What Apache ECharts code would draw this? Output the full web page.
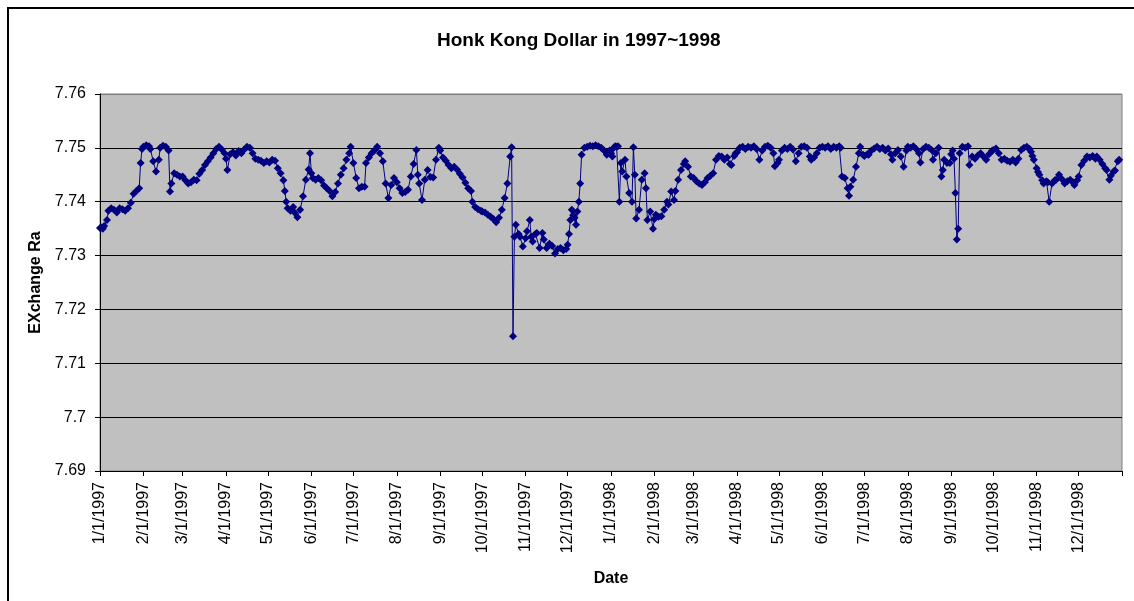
<!DOCTYPE html>
<html>
<head>
<meta charset="utf-8">
<title>Honk Kong Dollar in 1997~1998</title>
<script src="https://cdn.jsdelivr.net/npm/echarts@6/dist/echarts.min.js"></script>
<style>
  html, body { margin: 0; padding: 0; background: #fff; overflow: hidden; }
  .main-box { position: relative; width: 1134px; height: 601px; }
  .frame { position: absolute; left: 7px; top: 7px; width: 1200px; height: 700px; border: 2px solid #000; box-sizing: border-box; }
  .main-content { position: absolute; left: 0; top: 0; width: 1134px; height: 601px; }
</style>
</head>
<body>
<div class="main-box">
  <div class="frame"></div>
  <div class="main-content" id="chart"></div>
</div>
<script>
// month-start tick labels
const tickLabels = [
  '1/1/1997', '2/1/1997', '3/1/1997', '4/1/1997', '5/1/1997', '6/1/1997',
  '7/1/1997', '8/1/1997', '9/1/1997', '10/1/1997', '11/1/1997', '12/1/1997',
  '1/1/1998', '2/1/1998', '3/1/1998', '4/1/1998', '5/1/1998', '6/1/1998',
  '7/1/1998', '8/1/1998', '9/1/1998', '10/1/1998', '11/1/1998', '12/1/1998'
]
const axisEnd = '1/1/1999'

// rates by month: [day of month, HKD per USD]
const jan97 = [[1,7.7351],[2,7.7352],[3,7.7350],[4,7.7355],[6,7.7366],[7,7.7383],[9,7.7388],[11,7.7385],[13,7.7380],[15,7.7388],[17,7.7386],[19,7.7383],[21,7.7388],[23,7.7398],[25,7.7415],[27,7.7420],[29,7.7425],[30,7.7472],[31,7.7498]]
const feb97 = [[1,7.7502],[3,7.7505],[5,7.7503],[6,7.7498],[8,7.7475],[10,7.7456],[12,7.7478],[13,7.7500],[15,7.7504],[17,7.7502],[19,7.7495],[20,7.7419],[21,7.7434],[23,7.7453],[25,7.7450],[27,7.7447]]
const mar97 = [[1,7.7447],[3,7.7440],[5,7.7434],[7,7.7436],[9,7.7441],[11,7.7440],[13,7.7452],[15,7.7459],[17,7.7468],[19,7.7475],[21,7.7482],[23,7.7490],[25,7.7498],[27,7.7502],[29,7.7497],[31,7.7490]]
const apr97 = [[1,7.7480],[2,7.7459],[4,7.7488],[6,7.7492],[8,7.7486],[10,7.7494],[12,7.7490],[14,7.7497],[16,7.7502],[18,7.7500],[20,7.7490],[22,7.7480],[24,7.7478],[26,7.7476],[28,7.7472],[30,7.7475]]
const may97 = [[2,7.7473],[4,7.7478],[6,7.7476],[8,7.7462],[10,7.7453],[12,7.7440],[13,7.7420],[14,7.7400],[15,7.7388],[17,7.7383],[19,7.7390],[20,7.7380],[22,7.7371],[24,7.7385],[26,7.7410],[28,7.7441],[30,7.7460],[31,7.7490]]
const jun97 = [[1,7.7453],[2,7.7444],[4,7.7441],[6,7.7444],[8,7.7440],[10,7.7430],[12,7.7425],[14,7.7420],[16,7.7410],[18,7.7418],[20,7.7434],[22,7.7450],[24,7.7462],[26,7.7478],[28,7.7490],[29,7.7502]]
const jul97 = [[1,7.7472],[3,7.7444],[5,7.7425],[7,7.7428],[9,7.7428],[10,7.7472],[12,7.7482],[14,7.7490],[16,7.7495],[18,7.7502],[20,7.7490],[22,7.7475],[24,7.7434],[26,7.7407],[28,7.7431],[30,7.7444]]
const aug97 = [[1,7.7436],[3,7.7425],[5,7.7416],[7,7.7418],[9,7.7422],[11,7.7447],[13,7.7470],[15,7.7496],[16,7.7450],[17,7.7434],[19,7.7403],[21,7.7441],[23,7.7459],[25,7.7446],[27,7.7445],[29,7.7478],[31,7.7500]]
const sep97 = [[1,7.7495],[3,7.7482],[5,7.7476],[7,7.7468],[9,7.7462],[11,7.7465],[13,7.7460],[15,7.7452],[17,7.7445],[19,7.7435],[21,7.7425],[23,7.7420],[24,7.7400],[26,7.7390],[28,7.7386],[30,7.7383]]
const oct97 = [[1,7.7382],[3,7.7380],[5,7.7376],[7,7.7372],[9,7.7368],[11,7.7362],[13,7.7370],[15,7.7385],[17,7.7407],[19,7.7434],[21,7.7484],[22,7.7501],[23,7.7150],[24,7.7335],[25,7.7357],[27,7.7340],[28,7.7335],[30,7.7317]]
const nov97 = [[1,7.7332],[2,7.7345],[4,7.7366],[5,7.7335],[6,7.7326],[8,7.7340],[9,7.7342],[11,7.7314],[13,7.7342],[14,7.7330],[16,7.7314],[18,7.7322],[20,7.7318],[22,7.7304],[24,7.7312],[26,7.7314],[28,7.7310],[30,7.7312]]
const dec97 = [[1,7.7320],[2,7.7340],[3,7.7366],[4,7.7385],[5,7.7375],[6,7.7370],[7,7.7357],[8,7.7382],[9,7.7400],[10,7.7434],[11,7.7487],[13,7.7500],[15,7.7502],[17,7.7504],[19,7.7503],[21,7.7505],[23,7.7503],[25,7.7500],[27,7.7495],[29,7.7487],[31,7.7495]]
const jan98 = [[1,7.7490],[2,7.7484],[3,7.7500],[4,7.7503],[5,7.7502],[6,7.7503],[7,7.7400],[8,7.7472],[9,7.7456],[11,7.7478],[12,7.7447],[14,7.7416],[16,7.7400],[17,7.7501],[18,7.7450],[19,7.7369],[21,7.7385],[23,7.7441],[25,7.7453],[26,7.7425],[27,7.7366],[29,7.7382],[31,7.7350]]
const feb98 = [[1,7.7368],[2,7.7376],[4,7.7372],[6,7.7373],[8,7.7385],[10,7.7400],[11,7.7395],[13,7.7419],[15,7.7403],[16,7.7420],[18,7.7441],[20,7.7459],[22,7.7470],[23,7.7475],[25,7.7465],[27,7.7447]]
const mar98 = [[1,7.7444],[3,7.7438],[5,7.7434],[7,7.7431],[9,7.7436],[11,7.7444],[13,7.7448],[15,7.7453],[17,7.7478],[19,7.7485],[21,7.7484],[23,7.7478],[25,7.7482],[27,7.7470],[28,7.7468],[30,7.7485],[31,7.7490]]
const apr98 = [[1,7.7492],[3,7.7500],[5,7.7502],[7,7.7498],[9,7.7502],[11,7.7500],[13,7.7503],[15,7.7498],[17,7.7478],[19,7.7495],[21,7.7502],[23,7.7504],[25,7.7500],[27,7.7490],[28,7.7466],[30,7.7472]]
const may98 = [[1,7.7478],[3,7.7495],[5,7.7500],[7,7.7498],[9,7.7502],[11,7.7497],[13,7.7475],[15,7.7490],[17,7.7502],[19,7.7503],[21,7.7500],[23,7.7484],[24,7.7478],[26,7.7482],[28,7.7490],[30,7.7500]]
const jun98 = [[1,7.7502],[3,7.7500],[5,7.7503],[7,7.7498],[9,7.7502],[11,7.7500],[13,7.7503],[14,7.7500],[15,7.7447],[17,7.7444],[19,7.7425],[20,7.7411],[21,7.7428],[23,7.7441],[25,7.7465],[27,7.7490],[28,7.7502],[30,7.7487]]
const jul98 = [[1,7.7485],[3,7.7488],[4,7.7487],[6,7.7495],[8,7.7499],[10,7.7502],[12,7.7498],[14,7.7500],[16,7.7495],[18,7.7499],[20,7.7488],[21,7.7478],[23,7.7490],[25,7.7496],[27,7.7484],[29,7.7465],[31,7.7495]]
const aug98 = [[1,7.7502],[3,7.7500],[5,7.7503],[7,7.7498],[9,7.7490],[10,7.7473],[12,7.7498],[14,7.7502],[16,7.7500],[18,7.7496],[19,7.7478],[21,7.7490],[23,7.7500],[25,7.7447],[26,7.7459],[27,7.7478],[29,7.7472],[31,7.7472]]
const sep98 = [[1,7.7488],[2,7.7495],[3,7.7480],[4,7.7416],[5,7.7330],[6,7.7350],[7,7.7490],[9,7.7502],[11,7.7500],[13,7.7503],[14,7.7468],[16,7.7484],[18,7.7480],[20,7.7486],[22,7.7490],[24,7.7484],[26,7.7478],[28,7.7488],[30,7.7494]]
const oct98 = [[1,7.7496],[3,7.7499],[5,7.7490],[7,7.7478],[9,7.7480],[11,7.7476],[13,7.7474],[15,7.7478],[17,7.7473],[19,7.7480],[21,7.7496],[23,7.7500],[25,7.7502],[27,7.7498],[28,7.7493],[29,7.7485],[30,7.7478]]
const nov98 = [[1,7.7462],[2,7.7455],[3,7.7450],[5,7.7440],[6,7.7434],[8,7.7438],[9,7.7436],[10,7.7400],[12,7.7434],[14,7.7440],[15,7.7441],[17,7.7450],[19,7.7442],[21,7.7434],[23,7.7438],[25,7.7441],[27,7.7436],[28,7.7431],[30,7.7440]]
const dec98 = [[1,7.7447],[3,7.7468],[5,7.7476],[7,7.7484],[9,7.7482],[11,7.7485],[13,7.7480],[14,7.7484],[16,7.7478],[18,7.7470],[20,7.7462],[21,7.7459],[23,7.7441],[24,7.7448],[26,7.7456],[27,7.7458],[29,7.7475],[30,7.7478]]

const months = [
  [1997, 1, jan97], [1997, 2, feb97], [1997, 3, mar97], [1997, 4, apr97],
  [1997, 5, may97], [1997, 6, jun97], [1997, 7, jul97], [1997, 8, aug97],
  [1997, 9, sep97], [1997, 10, oct97], [1997, 11, nov97], [1997, 12, dec97],
  [1998, 1, jan98], [1998, 2, feb98], [1998, 3, mar98], [1998, 4, apr98],
  [1998, 5, may98], [1998, 6, jun98], [1998, 7, jul98], [1998, 8, aug98],
  [1998, 9, sep98], [1998, 10, oct98], [1998, 11, nov98], [1998, 12, dec98]
]

// every calendar day on the date axis
const dates = []
for (let t = Date.UTC(1997, 0, 1); t <= Date.UTC(1999, 0, 1); t += 86400000) {
  const d = new Date(t)
  dates.push((d.getUTCMonth() + 1) + '/' + d.getUTCDate() + '/' + d.getUTCFullYear())
}

const rates = []
months.forEach(([y, m, list]) => {
  list.forEach(([day, v]) => rates.push([m + '/' + day + '/' + y, v]))
})

const font = "'Liberation Sans', Arial, sans-serif"
const chart = echarts.init(document.getElementById('chart'))

chart.setOption({
  animation: false,
  title: {
    text: 'Honk Kong Dollar in 1997~1998',
    left: 432,
    top: 26,
    textStyle: { color: '#000', fontSize: 19, fontWeight: 'bold', fontFamily: font }
  },
  grid: {
    left: 100,
    top: 94,
    width: 1022,
    height: 377,
    show: true,
    backgroundColor: '#C0C0C0',
    borderColor: '#808080',
    borderWidth: 1
  },
  xAxis: {
    type: 'category',
    data: dates,
    boundaryGap: false,
    name: 'Date',
    nameLocation: 'middle',
    nameGap: 100,
    nameTextStyle: { color: '#000', fontSize: 16, fontWeight: 'bold', fontFamily: font },
    axisLine: { lineStyle: { color: '#000', width: 1 } },
    axisTick: {
      length: 5,
      lineStyle: { color: '#000' },
      interval: (i, v) => tickLabels.includes(v) || v === axisEnd
    },
    axisLabel: {
      rotate: 90,
      margin: 11,
      color: '#000',
      fontSize: 16,
      fontFamily: font,
      interval: (i, v) => tickLabels.includes(v)
    },
    splitLine: { show: false }
  },
  yAxis: {
    type: 'value',
    min: 7.69,
    max: 7.76,
    interval: 0.01,
    name: 'EXchange Ra',
    nameLocation: 'middle',
    nameRotate: 90,
    nameGap: 56,
    nameTextStyle: { color: '#000', fontSize: 16, fontWeight: 'bold', fontFamily: font },
    axisLine: { show: true, lineStyle: { color: '#000', width: 1 } },
    axisTick: { show: true, length: 5, lineStyle: { color: '#000' } },
    axisLabel: { margin: 14, color: '#000', fontSize: 16, fontFamily: font },
    splitLine: {
      show: true,
      lineStyle: {
        color: ['#000', '#000', '#000', '#000', '#000', '#000', '#000', '#808080'],
        width: 1
      }
    }
  },
  series: [
    {
      name: 'HKD',
      type: 'line',
      data: rates,
      showAllSymbol: true,
      symbol: 'diamond',
      symbolSize: 8,
      itemStyle: { color: '#000080' },
      lineStyle: { color: '#000080', width: 1 }
    }
  ]
})
</script>
</body>
</html>
